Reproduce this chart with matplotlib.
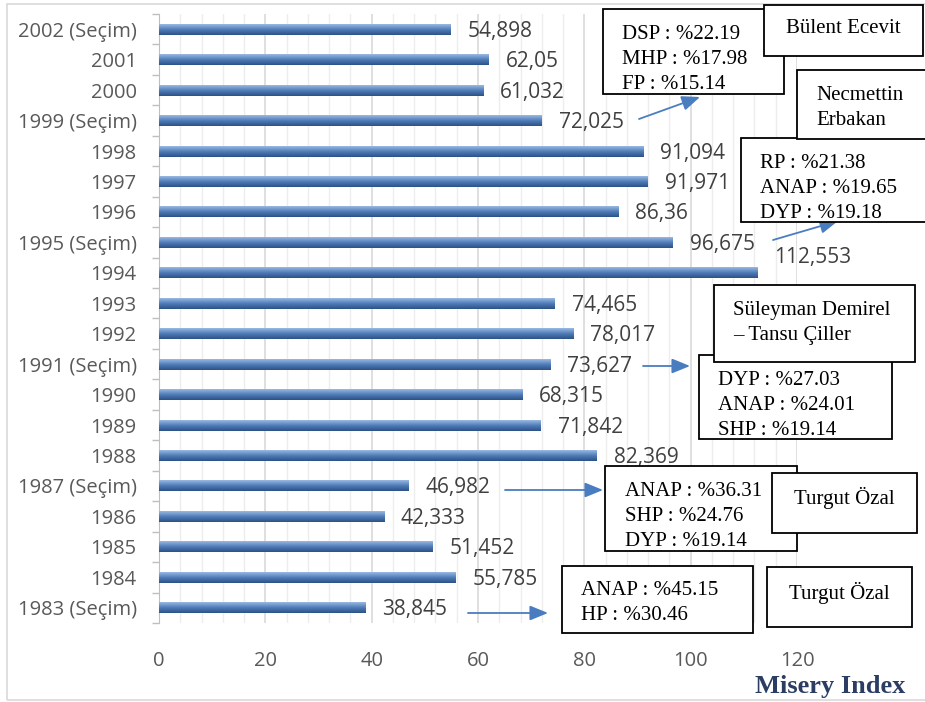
import numpy as np
import matplotlib.pyplot as plt
from matplotlib.patches import Rectangle
from matplotlib.colors import LinearSegmentedColormap

years = ['2002 (Seçim)', '2001', '2000', '1999 (Seçim)', '1998', '1997', '1996',
         '1995 (Seçim)', '1994', '1993', '1992', '1991 (Seçim)', '1990', '1989',
         '1988', '1987 (Seçim)', '1986', '1985', '1984', '1983 (Seçim)']
misery = [54.898, 62.05, 61.032, 72.025, 91.094, 91.971, 86.36,
          96.675, 112.553, 74.465, 78.017, 73.627, 68.315, 71.842,
          82.369, 46.982, 42.333, 51.452, 55.785, 38.845]

# election results boxes
results_2002 = "DSP : %22.19\nMHP : %17.98\nFP : %15.14"
results_1995 = "RP : %21.38\nANAP : %19.65\nDYP : %19.18"
results_1991 = "DYP : %27.03\nANAP : %24.01\nSHP : %19.14"
results_1987 = "ANAP : %36.31\nSHP : %24.76\nDYP : %19.14"
results_1983 = "ANAP : %45.15\nHP : %30.46"

W, H = 925, 702
fig = plt.figure(figsize=(W / 100, H / 100), dpi=100)
ax = fig.add_axes([159 / W, 1 - 623 / H, (797 - 159) / W, (623 - 14) / H])

sans = 'Open Sans'
serif = 'Liberation Serif'
gray = '#595959'

y = np.arange(len(years))
bars = ax.barh(y, misery, height=0.36, color='none', zorder=3)

# vertical gradient inside each bar, light on top, dark at bottom
cmap = LinearSegmentedColormap.from_list('bar', ['#2c5187', '#4f7cb8', '#9ab8e2'])
grad = np.linspace(0, 1, 64).reshape(-1, 1)
for p in bars:
    x0, y0 = p.get_x(), p.get_y()
    im = ax.imshow(grad, cmap=cmap, aspect='auto', origin='upper',
                   extent=[x0, x0 + p.get_width(), y0, y0 + p.get_height()], zorder=3)
    im.set_clip_path(p)

ax.set_xlim(0, 120)
ax.set_ylim(len(years) - 0.5, -0.5)
ax.set_yticks(y)
ax.set_yticklabels(years, fontfamily=sans, fontsize=14.5, color=gray)
ax.set_yticks(np.arange(len(years) + 1) - 0.5, minor=True)
ax.tick_params(axis='y', which='major', length=0, pad=16)
ax.tick_params(axis='y', which='minor', length=5, color='#BFBFBF', width=1)
ax.set_xticks(np.arange(0, 121, 20))
ax.set_xticklabels([str(v) for v in range(0, 121, 20)], fontfamily=sans, fontsize=14.5, color=gray)
ax.set_xticks(np.arange(0, 121, 4), minor=True)
ax.tick_params(axis='x', which='both', length=0, pad=20)
ax.grid(axis='x', which='major', color='#D9D9D9', lw=1.2, zorder=0)
ax.grid(axis='x', which='minor', color='#EDEDED', lw=1.0, zorder=0)
for s in ['top', 'right', 'bottom']:
    ax.spines[s].set_visible(False)
ax.spines['left'].set_color('#BFBFBF')

for i, v in enumerate(misery):
    dy = -15 if years[i] == '1994' else 2
    ax.annotate(f"{v}".replace('.', ','), (v, i), xytext=(12, -dy * 0.72),
                textcoords='offset points', va='center', ha='left',
                fontfamily=sans, fontsize=15, color='#404040', zorder=4)


def fx(px):
    return px / W


def fy(py):
    return 1 - py / H


def box(x0, y0, x1, y1, text, tx, ty, ha='left'):
    fig.add_artist(Rectangle((fx(x0), fy(y1)), fx(x1) - fx(x0), fy(y0) - fy(y1),
                             transform=fig.transFigure, facecolor='white',
                             edgecolor='black', lw=1.3))
    fig.text(fx(tx), fy(ty), text, ha=ha, va='top', fontfamily=serif,
             fontsize=15, linespacing=1.42, color='black')


def arrow(x0, y0, x1, y1):
    ax.annotate('', xy=(fx(x1), fy(y1)), xytext=(fx(x0), fy(y0)),
                xycoords='figure fraction', textcoords='figure fraction',
                arrowprops=dict(arrowstyle='-|>,head_length=1.1,head_width=0.45',
                                color='#4a7dc0', lw=1.3, shrinkA=0, shrinkB=0),
                annotation_clip=False)


# light outer chart border
fig.add_artist(Rectangle((fx(7), fy(700)), fx(930) - fx(7), fy(4) - fy(700),
                         transform=fig.transFigure, facecolor='none',
                         edgecolor='#D9D9D9', lw=1.2))

box(603, 9, 784, 94, results_2002, 622, 25)
box(764, 5, 923, 56, "Bülent Ecevit", 843, 19, ha='center')
box(741, 138, 935, 222, results_1995, 760, 154)
box(797, 70, 935, 139, "Necmettin\nErbakan", 816, 86)
box(699, 355, 892, 439, results_1991, 718, 371)
box(714, 285, 915, 362, "Süleyman Demirel\n– Tansu Çiller", 733, 301)
box(605, 466, 797, 551, results_1987, 625, 482)
box(772, 473, 917, 533, "Turgut Özal", 844, 487, ha='center')
box(562, 566, 753, 633, results_1983, 581, 581)
box(767, 567, 912, 627, "Turgut Özal", 839, 582, ha='center')

arrow(639, 119, 700, 97)
arrow(773, 240, 838, 221)
arrow(643, 366, 690, 366)
arrow(505, 490, 603, 490)
arrow(468, 613, 548, 613)

fig.text(fx(830), fy(686), "Misery Index", ha='center', va='center',
         fontfamily=serif, fontweight='bold', fontsize=19, color='#2b3d63')

plt.savefig('out.png', dpi=100)
